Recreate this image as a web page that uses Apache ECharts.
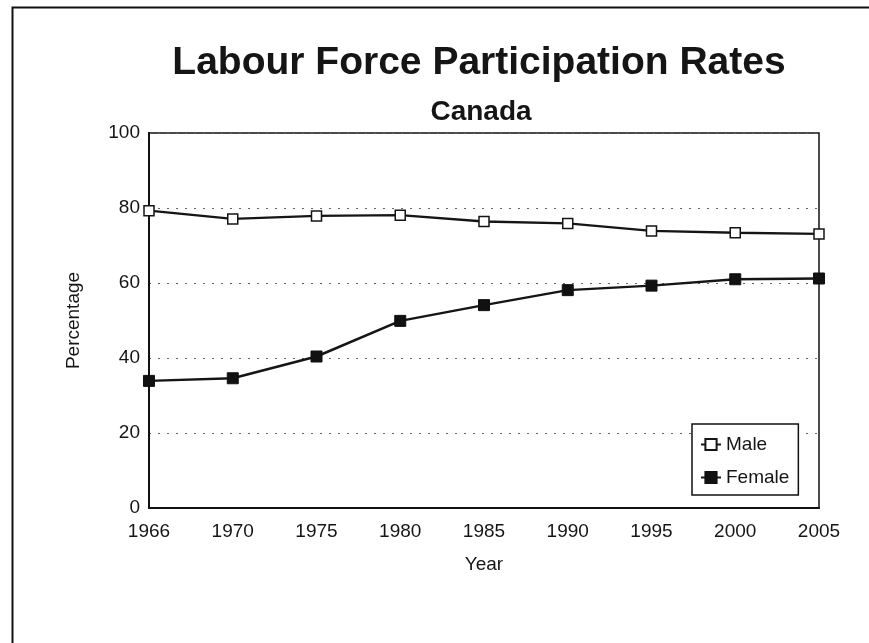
<!DOCTYPE html>
<html>
<head>
<meta charset="utf-8">
<title>Labour Force Participation Rates</title>
<script src="https://cdn.jsdelivr.net/npm/echarts@6/dist/echarts.min.js"></script>
<style>
    html, body { margin: 0; padding: 0; background: #fff; }
    #chart { width: 869px; height: 643px; }
</style>
</head>
<body>
<div id="chart"></div>
<script>
// years on the x axis
var years = ['1966', '1970', '1975', '1980', '1985', '1990', '1995', '2000', '2005'];
// participation rates (%)
var maleRates = [79.3, 77.1, 77.9, 78.1, 76.4, 75.9, 73.9, 73.4, 73.1];
var femaleRates = [33.9, 34.6, 40.4, 49.9, 54.1, 58.1, 59.3, 61.0, 61.2];

var ink = '#151515';
var font = 'Liberation Sans, Arial, sans-serif';

var myChart = echarts.init(document.getElementById('chart'));
var options = {
    animation: false,
    backgroundColor: '#fff',
    textStyle: { fontFamily: font, color: ink },
    title: [{
        text: 'Labour Force Participation Rates',
        left: 474,
        top: 39,
        textAlign: 'center',
        textStyle: { fontSize: 39, fontWeight: 'bold', color: ink, fontFamily: font }
    }, {
        text: 'Canada',
        left: 476,
        top: 93,
        textAlign: 'center',
        textStyle: { fontSize: 28, fontWeight: 'bold', color: ink, fontFamily: font }
    }],
    // outer frame, open on the right and bottom like the scan
    graphic: [{
        type: 'rect',
        left: 10,
        top: 5,
        shape: { width: 920, height: 700 },
        style: { fill: 'none', stroke: '#111', lineWidth: 2 },
        silent: true
    }],
    legend: {
        orient: 'vertical',
        left: 692,
        top: 424,
        padding: [11, 9, 8, 8],
        itemWidth: 20,
        itemHeight: 14,
        itemGap: 14,
        backgroundColor: '#fff',
        borderColor: '#111',
        borderWidth: 1.5,
        textStyle: { fontSize: 19, color: ink, fontFamily: font, lineHeight: 19 },
        data: ['Male', 'Female']
    },
    grid: {
        left: 149,
        right: 50,
        top: 133,
        bottom: 135,
        show: true,
        borderColor: '#111',
        borderWidth: 1.5
    },
    xAxis: {
        type: 'category',
        data: years,
        boundaryGap: false,
        name: 'Year',
        nameLocation: 'middle',
        nameGap: 47,
        nameTextStyle: { fontSize: 19, color: ink },
        axisLine: { lineStyle: { color: '#111', width: 2 } },
        axisTick: { show: false },
        axisLabel: { fontSize: 19, color: ink, margin: 14 },
        splitLine: { show: false }
    },
    yAxis: {
        type: 'value',
        min: 0,
        max: 100,
        interval: 20,
        name: 'Percentage',
        nameLocation: 'middle',
        nameGap: 66,
        nameTextStyle: { fontSize: 19, color: ink },
        axisLine: { show: true, lineStyle: { color: '#111', width: 2 } },
        axisTick: { show: false },
        axisLabel: { fontSize: 19, color: ink, margin: 9 },
        splitLine: {
            show: true,
            lineStyle: { color: '#666', type: [2, 7], width: 1 }
        }
    },
    series: [{
        name: 'Male',
        type: 'line',
        data: maleRates,
        symbol: 'rect',
        symbolSize: 10,
        lineStyle: { color: ink, width: 2.5 },
        itemStyle: { color: '#fff', borderColor: ink, borderWidth: 1.5 },
        z: 3
    }, {
        name: 'Female',
        type: 'line',
        data: femaleRates,
        symbol: 'rect',
        symbolSize: 11,
        lineStyle: { color: ink, width: 2.5 },
        itemStyle: { color: '#111', borderColor: '#111', borderWidth: 1 },
        z: 3
    }]
};
myChart.setOption(options);
</script>
</body>
</html>
